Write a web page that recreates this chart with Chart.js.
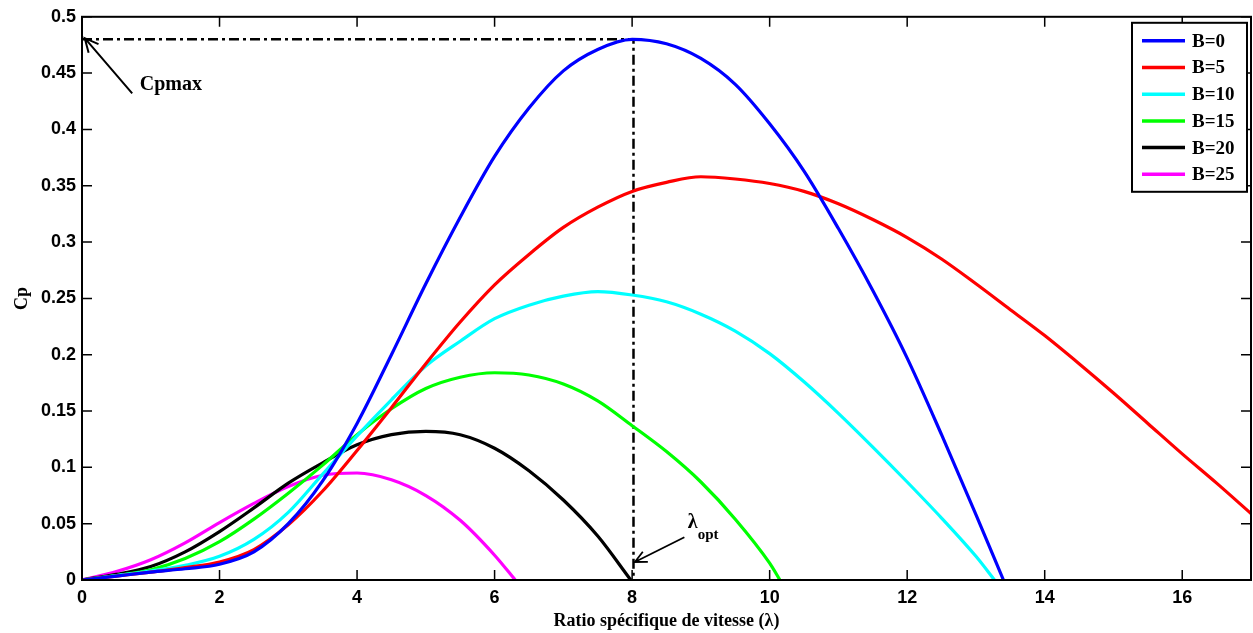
<!DOCTYPE html>
<html>
<head>
<meta charset="utf-8">
<script src="https://cdn.jsdelivr.net/npm/chart.js@4/dist/chart.umd.min.js"></script>
<style>
body{margin:0;background:#fff}
#wrap{width:1253px;height:633px;position:relative}
</style>
</head>
<body>
<div id="wrap"><canvas id="myChart"></canvas></div>
<script>
// series labels and colours
const seriesLabels = ['B=0', 'B=5', 'B=10', 'B=15', 'B=20', 'B=25'];
const seriesColors = ['#0000ff', '#ff0000', '#00ffff', '#00ff00', '#000000', '#ff00ff'];

// values (lambda, Cp)
const lambdaB0 = [0,0.5,1,1.5,2,2.5,3,3.5,4,4.5,5,5.5,6,6.5,7,7.5,8,8.5,9,9.5,10,10.5,11,11.5,12,12.5,13,13.4];
const cpB0 = [0,0.0035,0.007,0.010,0.014,0.025,0.050,0.088,0.139,0.200,0.263,0.322,0.376,0.419,0.452,0.471,0.480,0.476,0.463,0.440,0.405,0.363,0.312,0.257,0.197,0.129,0.058,0];

const lambdaB5 = [0,0.5,1,1.5,2,2.5,3,3.5,4,4.5,5,5.5,6,6.5,7,7.5,8,8.5,9,9.5,10,10.5,11,11.5,12,12.5,13,13.5,14,14.5,15,15.5,16,16.5,17];
const cpB5 = [0,0.0035,0.007,0.011,0.016,0.027,0.049,0.079,0.115,0.153,0.192,0.229,0.262,0.289,0.313,0.331,0.345,0.353,0.358,0.356,0.352,0.345,0.334,0.320,0.304,0.285,0.263,0.240,0.217,0.192,0.166,0.139,0.112,0.086,0.059];

const lambdaB10 = [0,0.5,1,1.5,2,2.5,3,3.5,4,4.5,5,5.5,6,6.5,7,7.5,8,8.5,9,9.5,10,10.5,11,11.5,12,12.5,13,13.27];
const cpB10 = [0,0.004,0.008,0.013,0.021,0.036,0.060,0.094,0.128,0.160,0.190,0.212,0.232,0.244,0.252,0.256,0.253,0.247,0.236,0.221,0.201,0.176,0.148,0.118,0.087,0.055,0.021,0];

const lambdaB15 = [0,0.5,1,1.5,2,2.5,3,3.5,4,4.5,5,5.5,6,6.5,7,7.5,8,8.5,9,9.5,10,10.15];
const cpB15 = [0,0.004,0.009,0.019,0.034,0.054,0.077,0.102,0.129,0.152,0.170,0.180,0.184,0.182,0.174,0.159,0.137,0.114,0.087,0.054,0.015,0];

const lambdaB20 = [0,0.5,1,1.5,2,2.5,3,3.5,4,4.5,5,5.5,6,6.5,7,7.5,7.98];
const cpB20 = [0,0.005,0.012,0.025,0.043,0.064,0.086,0.104,0.120,0.129,0.132,0.129,0.117,0.097,0.071,0.039,0];

const lambdaB25 = [0,0.5,1,1.5,2,2.5,3,3.5,4,4.5,5,5.5,6,6.3];
const cpB25 = [0,0.0075,0.018,0.033,0.051,0.068,0.083,0.093,0.095,0.089,0.075,0.053,0.022,0];

const seriesLambda = [lambdaB0, lambdaB5, lambdaB10, lambdaB15, lambdaB20, lambdaB25];
const seriesCp = [cpB0, cpB5, cpB10, cpB15, cpB20, cpB25];

// optimum point guide
const cpMax = 0.48;
const lambdaOpt = 8.02;

// ticks
const xTickValues = [0, 2, 4, 6, 8, 10, 12, 14, 16];
const yTickValues = [0, 0.05, 0.1, 0.15, 0.2, 0.25, 0.3, 0.35, 0.4, 0.45, 0.5];

function makePoints(xs, ys) {
    let pts = [];
    for (let i = 0; i < xs.length; i++) {
        pts.push({x: xs[i], y: ys[i]});
    }
    return pts;
}

const datasets = [];
for (let i = 0; i < seriesLabels.length; i++) {
    datasets.push({
        label: seriesLabels[i],
        data: makePoints(seriesLambda[i], seriesCp[i]),
        borderColor: seriesColors[i],
        borderWidth: 3.2,
        pointRadius: 0,
        cubicInterpolationMode: 'monotone',
        fill: false
    });
}
datasets.push({
    label: 'opt',
    data: [{x: 0, y: cpMax}, {x: lambdaOpt, y: cpMax}, {x: lambdaOpt, y: 0}],
    borderColor: '#000000',
    borderWidth: 2.5,
    borderDash: [10, 4, 3, 4],
    pointRadius: 0,
    tension: 0
});

const tickFont = {family: 'Liberation Sans, Arial, sans-serif', size: 18, weight: 'bold'};
const serif = 'Liberation Serif, Times New Roman, serif';

function arrow(ctx, x1, y1, x2, y2, head, width) {
    const a = Math.atan2(y2 - y1, x2 - x1);
    ctx.save();
    ctx.strokeStyle = '#000';
    ctx.lineWidth = width;
    ctx.beginPath();
    ctx.moveTo(x1, y1);
    ctx.lineTo(x2, y2);
    ctx.moveTo(x2 - head * Math.cos(a - 0.45), y2 - head * Math.sin(a - 0.45));
    ctx.lineTo(x2, y2);
    ctx.lineTo(x2 - head * Math.cos(a + 0.45), y2 - head * Math.sin(a + 0.45));
    ctx.stroke();
    ctx.restore();
}

const framePlugin = {
    id: 'frame',
    afterDatasetsDraw(chart) {
        const ctx = chart.ctx;
        const ca = chart.chartArea;
        const xs = chart.scales.x, ys = chart.scales.y;
        ctx.save();
        ctx.strokeStyle = '#000';
        ctx.lineWidth = 1.5;
        ctx.beginPath();
        xTickValues.forEach(v => {
            const px = xs.getPixelForValue(v);
            ctx.moveTo(px, ca.bottom); ctx.lineTo(px, ca.bottom - 10);
            ctx.moveTo(px, ca.top); ctx.lineTo(px, ca.top + 10);
        });
        yTickValues.forEach(v => {
            const py = ys.getPixelForValue(v);
            ctx.moveTo(ca.left, py); ctx.lineTo(ca.left + 10, py);
            ctx.moveTo(ca.right, py); ctx.lineTo(ca.right - 10, py);
        });
        ctx.stroke();
        ctx.lineWidth = 2;
        ctx.strokeRect(ca.left, ca.top, ca.right - ca.left, ca.bottom - ca.top);

        // annotations
        arrow(ctx, xs.getPixelForValue(0.73), ys.getPixelForValue(0.432),
              xs.getPixelForValue(0.04), ys.getPixelForValue(0.481), 15, 2);
        ctx.fillStyle = '#000';
        ctx.font = 'bold 20px ' + serif;
        ctx.textBaseline = 'alphabetic';
        ctx.textAlign = 'left';
        ctx.fillText('Cpmax', xs.getPixelForValue(0.84), ys.getPixelForValue(0.435));

        arrow(ctx, xs.getPixelForValue(8.76), ys.getPixelForValue(0.038),
              xs.getPixelForValue(8.04), ys.getPixelForValue(0.016), 13, 1.8);
        const lx = xs.getPixelForValue(8.81), ly = ys.getPixelForValue(0.046);
        ctx.font = 'bold 20px ' + serif;
        ctx.fillText('λ', lx, ly);
        const lw = ctx.measureText('λ').width;
        ctx.font = 'bold 15px ' + serif;
        ctx.fillText('opt', lx + lw, ly + 11);

        // legend box
        const bx = ca.right - 119, by = ca.top + 6, bw = 115, bh = 169;
        ctx.fillStyle = '#fff';
        ctx.fillRect(bx, by, bw, bh);
        ctx.lineWidth = 2;
        ctx.strokeRect(bx, by, bw, bh);
        ctx.font = 'bold 19px ' + serif;
        ctx.textBaseline = 'middle';
        for (let i = 0; i < seriesLabels.length; i++) {
            const ry = by + 18 + i * 26.7;
            ctx.strokeStyle = seriesColors[i];
            ctx.lineWidth = 3.5;
            ctx.beginPath();
            ctx.moveTo(bx + 10, ry); ctx.lineTo(bx + 53, ry);
            ctx.stroke();
            ctx.fillStyle = '#000';
            ctx.fillText(seriesLabels[i], bx + 60, ry + 1);
        }
        ctx.restore();
    }
};

function fmt(v) {
    return String(Number(v.toFixed(2)));
}

const config = {
    type: 'line',
    data: {datasets: datasets},
    options: {
        responsive: true,
        maintainAspectRatio: false,
        animation: false,
        layout: {padding: {top: 15, right: 2, left: 0, bottom: 0}},
        plugins: {legend: {display: false}, tooltip: {enabled: false}},
        scales: {
            x: {
                type: 'linear',
                min: 0,
                max: 17,
                afterBuildTicks: scale => { scale.ticks = xTickValues.map(v => ({value: v})); },
                afterFit: scale => { scale.height = 53; },
                grid: {display: false, drawTicks: false},
                border: {display: false},
                ticks: {font: tickFont, color: '#000', padding: 7, maxRotation: 0, callback: v => fmt(v)},
                title: {display: true, text: 'Ratio spécifique de vitesse (λ)', color: '#000',
                        font: {family: serif, size: 18, weight: 'bold'}, padding: {top: 0, bottom: 1}}
            },
            y: {
                type: 'linear',
                min: 0,
                max: 0.5,
                afterBuildTicks: scale => { scale.ticks = yTickValues.map(v => ({value: v})); },
                afterFit: scale => { scale.width = 82; },
                grid: {display: false, drawTicks: false},
                border: {display: false},
                ticks: {font: tickFont, color: '#000', padding: 6, callback: v => fmt(v)},
                title: {display: true, text: 'Cp', color: '#000',
                        font: {family: serif, size: 18, weight: 'bold'}, padding: {top: 12, bottom: 0}}
            }
        }
    },
    plugins: [framePlugin]
};

const myChart = new Chart(document.getElementById('myChart'), config);
</script>
</body>
</html>
